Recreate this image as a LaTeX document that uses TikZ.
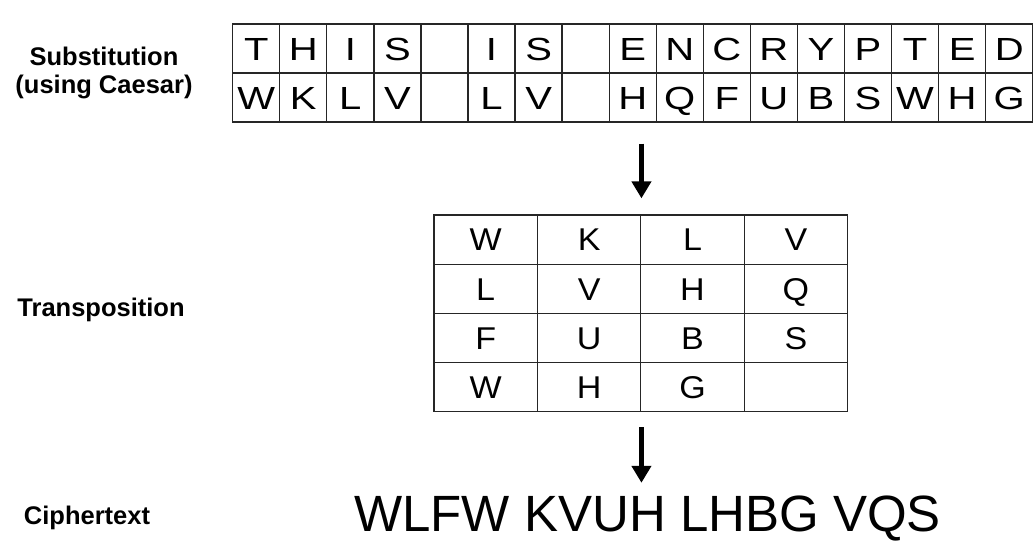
\documentclass[tikz,border=0pt]{standalone}
\usepackage{fontspec}
\setmainfont{Liberation Sans}
\usetikzlibrary{arrows.meta}
\begin{document}
\begin{tikzpicture}[x=1pt,y=-1pt,
	cell/.style	=	{draw=black!85,line width=1.3pt,minimum width=47.06pt,minimum height=49pt,inner sep=0pt,
						font=\fontsize{32}{36}\selectfont,text height=23pt,text depth=0pt},
	box/.style	=	{cell,minimum width=103.4pt,minimum height=49.2pt,font=\fontsize{31.5}{36}\selectfont,text height=22.6pt},
	flow/.style	=	{-{Triangle[width=19pt,length=17pt]},line width=4.6pt},
	caption/.style	=	{font=\bfseries\fontsize{25.5}{28.3}\selectfont,align=center}]

	\useasboundingbox (0,0) rectangle (1036,554);

	% substitution table
	\foreach \ch [count=\i from 0] in {T,H,I,S,{},I,S,{},E,N,C,R,Y,P,T,E,D}
		\node[cell] (p\i) at (256.23+47.06*\i,48.5) {\scalebox{1.25}[1]{\ch}};
	\foreach \ch [count=\i from 0] in {W,K,L,V,{},L,V,{},H,Q,F,U,B,S,W,H,G}
		\node[cell] (c\i) at (256.23+47.06*\i,97.5) {\scalebox{1.25}[1]{\ch}};

	% transposition grid
	\foreach \row [count=\r from 0] in {{W,K,L,V},{L,V,H,Q},{F,U,B,S},{W,H,G,{}}}
		\foreach \ch [count=\c from 0] in \row
			\node[box] (g-\r-\c) at (485.7+103.4*\c,239.6+49.2*\r) {\scalebox{1.08}[1]{\ch}};

	\node[anchor=base,inner sep=0pt,text height=37pt,text depth=0pt,font=\fontsize{51}{56}\selectfont]
		(cipher) at (647.5,531.7) {WLFW KVUH LHBG VQS};

	\draw[flow,shorten <=21pt,shorten >=16pt] (g-0-1.north east |- c8.south) -- (g-0-1.north east);
	\draw[flow,shorten <=15pt,shorten >=11.7pt] (g-3-1.south east) -- (g-3-1.south east |- cipher.north);

	% labels
	\node[caption] (subst) at (104,73) {Substitution\\(using Caesar)};
	\node[caption,anchor=base] (trans) at (101,316) {Transposition};
	\node[caption,anchor=base] (ctext) at (87,524) {Ciphertext};
\end{tikzpicture}
\end{document}
